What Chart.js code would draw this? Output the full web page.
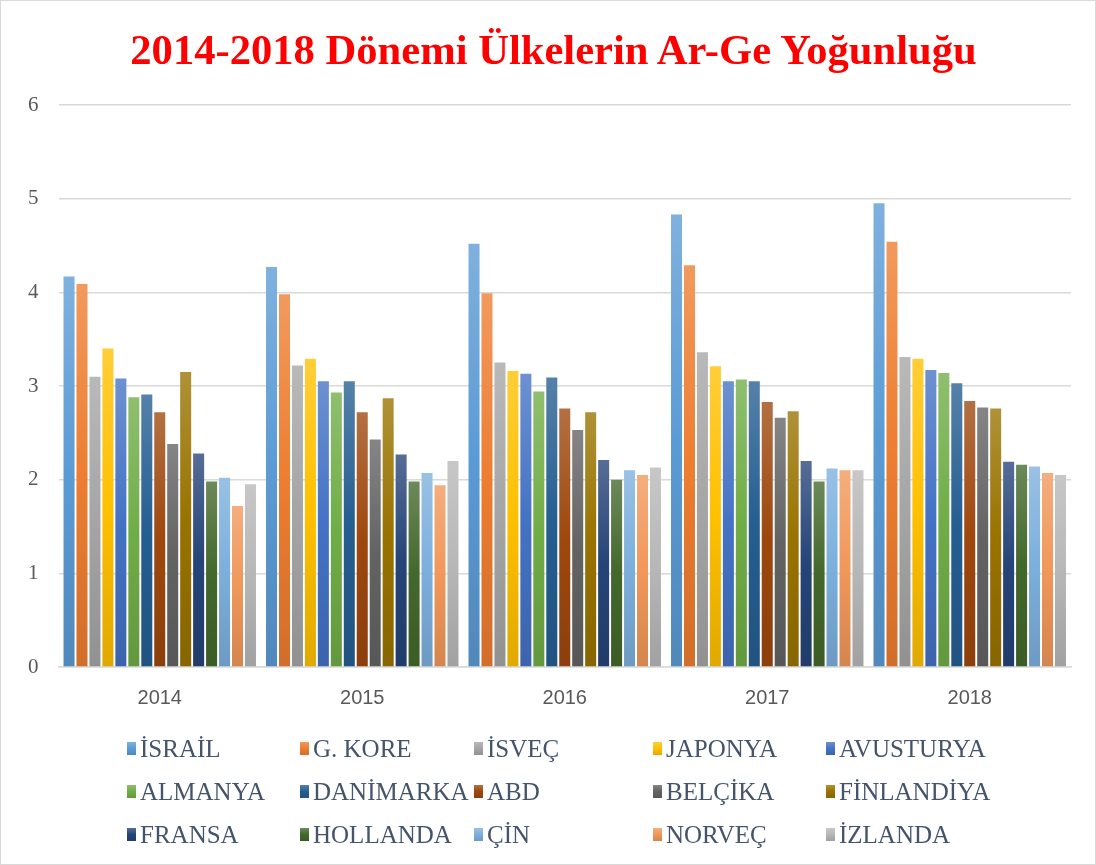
<!DOCTYPE html>
<html>
<head>
<meta charset="utf-8">
<script src="https://cdn.jsdelivr.net/npm/chart.js@4"></script>
<style>
  html, body { margin: 0; padding: 0; background: #fff; }
  #wrap { position: relative; width: 1096px; height: 865px; box-sizing: border-box; border: 1px solid #d9d9d9; }
  #title {
    position: absolute; left: 0; top: 24px; width: 1096px; box-sizing: border-box; padding-left: 9px;
    text-align: center; line-height: 50px; white-space: nowrap;
    font-family: "Liberation Serif", "Times New Roman", serif; font-size: 42.6px; font-weight: bold; color: #FF0000;
  }
  #chartBox { position: absolute; left: 0; top: 0; width: 1096px; height: 728px; }
  #legend {
    position: absolute; left: 126px; top: 726px;
    display: grid; grid-template-columns: 173px 174px 179px 173px 200px;
    grid-auto-rows: 43px; align-items: center;
    font-family: "Liberation Serif", "Times New Roman", serif; font-size: 25px; color: #44546A;
  }
  .item { display: flex; align-items: center; white-space: nowrap; }
  .sw { width: 9px; height: 13px; margin-right: 4px; }
</style>
</head>
<body>
<div id="wrap">
  <div id="chartBox"><canvas id="c"></canvas></div>
  <div id="title">2014-2018 Dönemi Ülkelerin Ar-Ge Yoğunluğu</div>
  <div id="legend"></div>
</div>
<script>
const years = ['2014', '2015', '2016', '2017', '2018'];
const countries = ['İSRAİL', 'G. KORE', 'İSVEÇ', 'JAPONYA', 'AVUSTURYA',
                   'ALMANYA', 'DANİMARKA', 'ABD', 'BELÇİKA', 'FİNLANDİYA',
                   'FRANSA', 'HOLLANDA', 'ÇİN', 'NORVEÇ', 'İZLANDA'];
const colors = ['#5B9BD5', '#ED7D31', '#A5A5A5', '#FFC000', '#4472C4',
                '#70AD47', '#255E91', '#9E480E', '#636363', '#997300',
                '#264478', '#43682B', '#7CAFDD', '#F1975A', '#B7B7B7'];

// one row per country, values for 2014..2018
const israil    = [4.17, 4.27, 4.52, 4.83, 4.95];
const gKore     = [4.09, 3.98, 3.99, 4.29, 4.54];
const isvec     = [3.10, 3.22, 3.25, 3.36, 3.31];
const japonya   = [3.40, 3.29, 3.16, 3.21, 3.29];
const avusturya = [3.08, 3.05, 3.13, 3.05, 3.17];
const almanya   = [2.88, 2.93, 2.94, 3.07, 3.14];
const danimarka = [2.91, 3.05, 3.09, 3.05, 3.03];
const abd       = [2.72, 2.72, 2.76, 2.83, 2.84];
const belcika   = [2.38, 2.43, 2.53, 2.66, 2.77];
const finlandiya= [3.15, 2.87, 2.72, 2.73, 2.76];
const fransa    = [2.28, 2.27, 2.21, 2.20, 2.19];
const hollanda  = [1.98, 1.98, 2.00, 1.98, 2.16];
const cin       = [2.02, 2.07, 2.10, 2.12, 2.14];
const norvec    = [1.72, 1.94, 2.05, 2.10, 2.07];
const izlanda   = [1.95, 2.20, 2.13, 2.10, 2.05];

const series = [israil, gKore, isvec, japonya, avusturya, almanya, danimarka, abd,
                belcika, finlandiya, fransa, hollanda, cin, norvec, izlanda];

function mix(hex, target, t) {
    const n = parseInt(hex.slice(1), 16);
    const r = (n >> 16) & 255, g = (n >> 8) & 255, b = n & 255;
    const m = c => Math.round(c + (target - c) * t);
    return `rgb(${m(r)},${m(g)},${m(b)})`;
}

function barGradient(base) {
    return function (ctx) {
        const chart = ctx.chart;
        const { chartArea, scales } = chart;
        if (!chartArea || ctx.raw === undefined) return base;
        const top = scales.y.getPixelForValue(ctx.raw);
        const bottom = scales.y.getPixelForValue(0);
        const g = chart.ctx.createLinearGradient(0, top, 0, bottom);
        g.addColorStop(0, mix(base, 255, 0.22));
        g.addColorStop(0.5, base);
        g.addColorStop(1, mix(base, 0, 0.12));
        return g;
    };
}

const datasets = countries.map((name, i) => ({
    label: name,
    data: series[i],
    backgroundColor: barGradient(colors[i]),
    borderWidth: 0,
    barPercentage: 0.85,
    categoryPercentage: 0.96
}));

new Chart(document.getElementById('c'), {
    type: 'bar',
    data: { labels: years, datasets: datasets },
    options: {
        responsive: true,
        maintainAspectRatio: false,
        animation: false,
        // top padding leaves room for the html title above the plot
        layout: { padding: { left: 7, right: 26, top: 104, bottom: 8 } },
        plugins: {
            legend: { display: false },
            tooltip: { enabled: false },
            title: { display: false }
        },
        scales: {
            x: {
                grid: { display: false },
                border: { color: '#D9D9D9', width: 1.5 },
                ticks: { color: '#595959', font: { family: '"Liberation Sans", Arial, sans-serif', size: 20 }, padding: 11 }
            },
            y: {
                min: 0,
                max: 6,
                ticks: { stepSize: 1, color: '#595959', padding: 20,
                         font: { family: '"Liberation Serif", "Times New Roman", serif', size: 21 } },
                grid: { color: '#D9D9D9', lineWidth: 1.5, drawTicks: false },
                border: { display: false }
            }
        }
    }
});

// legend laid out as a 5 column grid, like the original
const legend = document.getElementById('legend');
countries.forEach((name, i) => {
    const item = document.createElement('div');
    item.className = 'item';
    const sw = document.createElement('span');
    sw.className = 'sw';
    sw.style.background = `linear-gradient(${mix(colors[i], 255, 0.22)}, ${colors[i]}, ${mix(colors[i], 0, 0.12)})`;
    item.appendChild(sw);
    item.appendChild(document.createTextNode(name));
    legend.appendChild(item);
});
</script>
</body>
</html>
